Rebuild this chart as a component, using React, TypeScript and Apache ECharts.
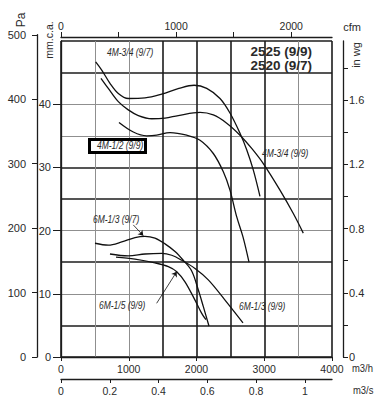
import React, { useEffect, useRef } from 'react';
import * as echarts from 'echarts';

// ---- axis ticks / labels ----
const m3hTicks = [0, 1000, 2000, 3000, 4000];
const m3sTicks = [0, 0.2, 0.4, 0.6, 0.8, 1];
const cfmTicks = [0, 500, 1000, 1500, 2000];
const cfmLabels = [0, 1000, 2000];
const mmTicks = [0, 10, 20, 30, 40];
const inwgTicks = [0, 0.2, 0.4, 0.6, 0.8, 1.0, 1.2, 1.4, 1.6, 1.8];
const inwgLabels = [0, 0.4, 0.8, 1.2, 1.6];

// ---- unit conversions ----
const M3H_PER_CFM = 1.699;
const M3H_PER_M3S = 3600;
const MM_PER_INWG = 25.4;
const PA_PER_MM = 9.80665;
const Q_MAX = 4000; // m3/h
const P_MAX = 50; // mm c.a.
const PA_MAX = 500;

// ---- curves: flow (m3/h) and pressure (mm c.a.) ----
const q_4M34_97 = [512, 601, 723, 846, 993, 1240, 1486, 1740, 1965, 2151, 2347, 2494, 2642, 2741, 2838, 2937];
const p_4M34_97 = [46.7, 45.4, 43.3, 41.7, 40.9, 41.0, 41.6, 42.5, 43.0, 42.5, 40.9, 38.6, 35.4, 32.8, 29.6, 25.4];

const q_4M34_99 = [590, 698, 846, 993, 1141, 1339, 1535, 1731, 2052, 2248, 2446, 2642, 2815, 2986, 3232, 3429, 3576];
const p_4M34_99 = [44.1, 42.5, 40.4, 39.1, 38.2, 37.7, 37.8, 38.2, 38.7, 38.3, 37.0, 35.1, 33.0, 30.6, 26.4, 22.7, 19.6];

const q_4M12_99 = [856, 1067, 1265, 1413, 1609, 1855, 2052, 2248, 2396, 2494, 2593, 2686, 2775];
const p_4M12_99 = [37.1, 35.6, 35.0, 35.1, 35.5, 35.1, 34.3, 32.2, 29.3, 26.4, 22.2, 19.0, 15.0];

const q_6M13_97 = [502, 698, 896, 1092, 1240, 1387, 1535, 1683, 1805, 1929, 2027, 2100, 2184];
const p_6M13_97 = [18.0, 17.7, 18.2, 18.9, 19.1, 18.8, 17.9, 16.7, 15.3, 13.6, 10.6, 8.0, 4.9];

const q_6M13_99 = [723, 993, 1240, 1486, 1634, 1782, 1978, 2174, 2421, 2686];
const p_6M13_99 = [16.3, 16.0, 16.3, 16.4, 16.1, 15.3, 14.0, 12.2, 9.0, 5.4];

const q_6M15_99 = [812, 1092, 1387, 1584, 1708, 1830, 1978, 2077, 2140];
const p_6M15_99 = [15.8, 15.5, 14.9, 14.3, 13.5, 11.9, 9.0, 6.9, 5.9];

// leader lines (flow, pressure) from label to curve
const leader_6M13_97 = [[1067, 20.9], [1215, 19.2]];
const leader_6M15_99 = [[1412, 8.5], [1708, 13.5]];

const curves = [
  { name: '4M-3/4 (9/7)', q: q_4M34_97, p: p_4M34_97, leader: null as number[][] | null },
  { name: '4M-3/4 (9/9)', q: q_4M34_99, p: p_4M34_99, leader: null },
  { name: '4M-1/2 (9/9)', q: q_4M12_99, p: p_4M12_99, leader: null },
  { name: '6M-1/3 (9/7)', q: q_6M13_97, p: p_6M13_97, leader: leader_6M13_97 },
  { name: '6M-1/3 (9/9)', q: q_6M13_99, p: p_6M13_99, leader: null },
  { name: '6M-1/5 (9/9)', q: q_6M15_99, p: p_6M15_99, leader: leader_6M15_99 },
];

// ---- layout / styles ----
const W = 391;
const H = 417;
const GRID = { left: 61, right: 59, top: 41, bottom: 60 };
const plotH = H - GRID.top - GRID.bottom;
const paTop = H - GRID.bottom - (plotH * (PA_MAX / PA_PER_MM)) / P_MAX;

const FONT = "'Liberation Sans', Arial, Helvetica, sans-serif";
const TXT = '#2a2a2a';
const AX = '#1c1c1c';
const DK = '#1c1c1c';
const GR = '#8f8f8f';
const TR = 'rgba(0,0,0,0)';
const xDark = [DK, TR, TR, DK, DK, DK, DK, TR, DK];
const xGray = [TR, GR, GR, TR, TR, TR, TR, GR, TR];
const yDark = [DK, DK, TR, DK, TR, DK, DK, TR, TR, DK, DK];
const yGray = [TR, TR, GR, TR, GR, TR, TR, GR, GR, TR, TR];

const fmt = (v: number) => String(v);

const labelStyle = (size: number, margin: number) => ({
  color: TXT,
  fontSize: size,
  fontFamily: FONT,
  margin,
  formatter: fmt,
});

const txt = (
  text: string,
  x: number,
  y: number,
  opts: { size?: number; align?: string; rot?: number; italic?: boolean; bold?: boolean; sx?: number } = {}
) => ({
  type: 'text',
  x,
  y,
  z: 20,
  rotation: opts.rot || 0,
  scaleX: opts.sx || 1,
  style: {
    text,
    x: 0,
    y: 0,
    fill: TXT,
    fontSize: opts.size || 11,
    fontFamily: FONT,
    fontStyle: opts.italic ? 'italic' : 'normal',
    fontWeight: opts.bold ? 'bold' : 'normal',
    align: opts.align || 'left',
    textAlign: opts.align || 'left',
    verticalAlign: 'middle',
    textVerticalAlign: 'middle',
  },
});

function buildOption() {
  const series = curves.map((c) => {
    const s: any = {
      type: 'line',
      name: c.name,
      xAxisIndex: 0,
      yAxisIndex: 0,
      data: c.q.map((x, i) => [x, c.p[i]]),
      smooth: 0.35,
      showSymbol: false,
      symbol: 'none',
      silent: true,
      z: 5,
      lineStyle: { color: '#111', width: 1.3 },
    };
    if (c.leader) {
      s.markLine = {
        silent: true,
        symbol: ['none', 'arrow'],
        symbolSize: 5,
        label: { show: false },
        lineStyle: { color: '#111', width: 0.8, type: 'solid' },
        data: [[{ coord: c.leader[0] }, { coord: c.leader[1] }]],
      };
    }
    return s;
  });

  const axisLine = () => ({ show: true, onZero: false, lineStyle: { color: AX, width: 1.3 } });
  const hidden = () => ({
    axisLine: { show: false, onZero: false },
    axisTick: { show: false },
    axisLabel: { show: false },
  });

  return {
    animation: false,
    backgroundColor: '#fff',
    grid: [
      { left: GRID.left, right: GRID.right, top: GRID.top, bottom: GRID.bottom, outerBoundsMode: 'none' },
      { left: 37, width: 2, top: paTop, bottom: GRID.bottom, outerBoundsMode: 'none' },
    ],
    xAxis: [
      {
        type: 'value', gridIndex: 0, position: 'bottom', min: 0, max: Q_MAX,
        axisLine: axisLine(),
        axisTick: { show: true, customValues: m3hTicks, length: 4, lineStyle: { color: AX } },
        axisLabel: { ...labelStyle(10.5, 6), customValues: m3hTicks },
        splitLine: { show: false },
      },
      {
        type: 'value', gridIndex: 0, position: 'top', offset: 4, min: 0, max: Q_MAX / M3H_PER_CFM,
        axisLine: axisLine(),
        axisTick: { show: true, customValues: cfmTicks, length: 5, lineStyle: { color: AX } },
        axisLabel: { ...labelStyle(10.5, 6), customValues: cfmLabels },
        splitLine: { show: false },
      },
      {
        type: 'value', gridIndex: 0, position: 'bottom', offset: 22, min: 0, max: Q_MAX / M3H_PER_M3S,
        axisLine: axisLine(),
        axisTick: { show: true, customValues: m3sTicks, length: 4, lineStyle: { color: AX } },
        axisLabel: { ...labelStyle(10.5, 6), customValues: m3sTicks },
        splitLine: { show: false },
      },
      {
        type: 'value', gridIndex: 0, position: 'bottom', min: 0, max: Q_MAX, interval: 500,
        ...hidden(),
        splitLine: { show: true, lineStyle: { color: xDark, width: 1.6 } },
      },
      {
        type: 'value', gridIndex: 0, position: 'bottom', min: 0, max: Q_MAX, interval: 500,
        ...hidden(),
        splitLine: { show: true, lineStyle: { color: xGray, width: 1 } },
      },
      { type: 'value', gridIndex: 1, show: false, min: 0, max: 1 },
    ],
    yAxis: [
      {
        type: 'value', gridIndex: 0, position: 'left', min: 0, max: P_MAX,
        axisLine: axisLine(),
        axisTick: { show: true, customValues: mmTicks, length: 8, lineStyle: { color: AX } },
        axisLabel: { ...labelStyle(11, 10), customValues: mmTicks },
        splitLine: { show: false },
      },
      {
        type: 'value', gridIndex: 0, position: 'right', offset: 11, min: 0, max: P_MAX / MM_PER_INWG,
        axisLine: axisLine(),
        axisTick: { show: true, customValues: inwgTicks, length: 5, lineStyle: { color: AX } },
        axisLabel: { ...labelStyle(11, 6), customValues: inwgLabels },
        splitLine: { show: false },
      },
      {
        type: 'value', gridIndex: 0, position: 'left', min: 0, max: P_MAX, interval: 5,
        ...hidden(),
        splitLine: { show: true, lineStyle: { color: yDark, width: 1.6 } },
      },
      {
        type: 'value', gridIndex: 0, position: 'left', min: 0, max: P_MAX, interval: 5,
        ...hidden(),
        splitLine: { show: true, lineStyle: { color: yGray, width: 1 } },
      },
      {
        type: 'value', gridIndex: 1, position: 'left', min: 0, max: PA_MAX, interval: 100,
        axisLine: axisLine(),
        axisTick: { show: true, length: 5, lineStyle: { color: AX } },
        axisLabel: labelStyle(11, 11),
        splitLine: { show: false },
      },
    ],
    series,
    graphic: [
      txt('Pa', 21, 20, { size: 12, align: 'center', rot: Math.PI / 2 }),
      txt('mm.c.a.', 48.5, 40, { size: 10.5, align: 'center', rot: Math.PI / 2 }),
      txt('cfm', 352, 27, { size: 11, align: 'center' }),
      txt('in wg', 356, 55, { size: 11, align: 'center', rot: Math.PI / 2 }),
      txt('m3/h', 352, 368, { size: 10.5, sx: 0.9 }),
      txt('m3/s', 353, 390, { size: 10.5, sx: 0.9 }),
      txt('2525 (9/9)', 312, 51.5, { size: 13.5, bold: true, align: 'right' }),
      txt('2520 (9/7)', 312, 65.5, { size: 13.5, bold: true, align: 'right' }),
      {
        type: 'rect', z: 19,
        shape: { x: 89.5, y: 139.5, width: 56, height: 13 },
        style: { fill: '#fff', stroke: '#000', lineWidth: 3 },
      },
      txt('4M-3/4 (9/7)', 107, 53, { size: 10, italic: true, sx: 0.85 }),
      txt('4M-1/2 (9/9)', 97, 146, { size: 10, italic: true, sx: 0.85 }),
      txt('4M-3/4 (9/9)', 262, 154, { size: 10, italic: true, sx: 0.85 }),
      txt('6M-1/3 (9/7)', 93, 220, { size: 10, italic: true, sx: 0.85 }),
      txt('6M-1/5 (9/9)', 99, 306, { size: 10, italic: true, sx: 0.85 }),
      txt('6M-1/3 (9/9)', 239, 307, { size: 10, italic: true, sx: 0.85 }),
    ],
  };
}

export default function App() {
  const ref = useRef<HTMLDivElement>(null);
  useEffect(() => {
    if (!ref.current) return;
    const chart = echarts.init(ref.current, null, { renderer: 'svg', width: W, height: H });
    chart.setOption(buildOption() as any);
    return () => chart.dispose();
  }, []);
  return (
    <div
      ref={ref}
      style={{ position: 'absolute', left: 0, top: 0, width: W, height: H, background: '#fff' }}
    />
  );
}
